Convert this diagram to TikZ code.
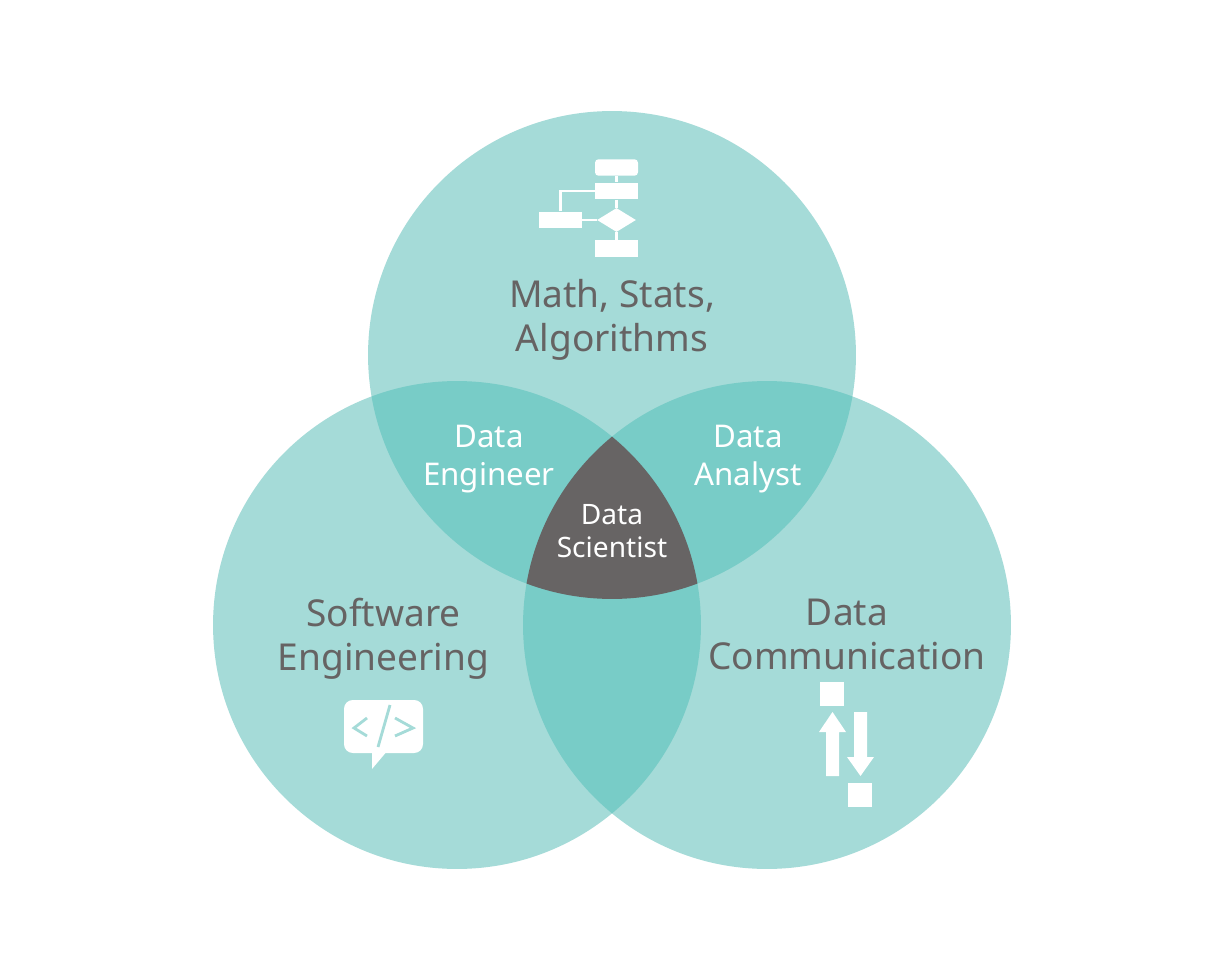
\documentclass[tikz,border=0pt]{standalone}
\usepackage{fontspec}
\setmainfont{Noto Sans}
\usetikzlibrary{shapes.geometric,positioning}
\definecolor{vennlight}{HTML}{A5DBD8}
\definecolor{venndark}{HTML}{78CCC7}
\definecolor{venncore}{HTML}{676464}
\definecolor{venntext}{HTML}{666363}

\begin{document}
\begin{tikzpicture}[x=0.02cm,y=-0.02cm,
    big/.style={text=venntext,align=center,inner sep=0pt,font=\fontsize{21.1}{25}\selectfont},
    mid/.style={text=white,align=center,inner sep=0pt,font=\fontsize{17.8}{21.4}\selectfont},
    small/.style={text=white,align=center,inner sep=0pt,font=\fontsize{16}{18.8}\selectfont},
    flowbox/.style={fill=white,minimum width=0.86cm,minimum height=0.33cm,inner sep=0pt},
    flowline/.style={draw=white,line width=1.2pt},
    sqbox/.style={fill=white,minimum size=0.48cm,inner sep=0pt}]

    \useasboundingbox (0,0) rectangle (1225,980);
    \fill[white] (0,0) rectangle (1225,980);

    % the circles
    \def\circtop{(612,355) circle (4.88cm)}
    \def\circleft{(457,625) circle (4.88cm)}
    \def\circright{(767,625) circle (4.88cm)}
    \fill[vennlight] \circtop;
    \fill[vennlight] \circleft;
    \fill[vennlight] \circright;

    % the overlaps
    \begin{scope}
      \clip \circtop;
      \fill[venndark] \circleft;
      \fill[venndark] \circright;
    \end{scope}
    \begin{scope}
      \clip \circleft;
      \fill[venndark] \circright;
    \end{scope}
    \begin{scope}
      \clip \circtop;
      \clip \circleft;
      \fill[venncore] \circright;
    \end{scope}

    % the texts
    \node[big] (math) at (612,320) {Math, Stats,\\Algorithms};
    \node[big] (soft) at (383.5,638.5) {Software\\Engineering};
    \node[big] (comm) at (847,634) {Data\\Communication};
    \node[mid] (eng) at (489,459) {Data\\Engineer};
    \node[mid] (ana) at (748,459) {Data\\Analyst};
    \node[small] (sci) at (612,531.5) {Data\\Scientist};

    % the flow chart
    \node[flowbox,rounded corners=2pt] (start) at (616.5,167.5) {};
    \node[flowbox] (proc) at (616.5,191) {};
    \node[flowbox] (side) at (560.5,220) {};
    \node[fill=white,diamond,minimum width=0.78cm,minimum height=0.48cm,inner sep=0pt] (deci) at (616.5,220) {};
    \node[flowbox] (stop) at (616.5,248.5) {};
    \draw[flowline] (start) -- (proc);
    \draw[flowline] (proc) -- (deci);
    \draw[flowline] (deci) -- (stop);
    \draw[flowline] (side) -- (deci);
    \draw[flowline] (side) |- (proc);

    % the code bubble
    \fill[white,rounded corners=5pt] (344,700) rectangle (423,753);
    \fill[white] (372,750) -- (372,769) -- (388,750) -- cycle;
    \draw[vennlight,line width=1.6pt] (367,718) -- (354,728) -- (367,736);
    \draw[vennlight,line width=1.6pt] (395,718) -- (413,728) -- (395,736);
    \draw[vennlight,line width=1.6pt] (390,705) -- (378,747);

    % the two arrows
    \node[sqbox] (upper) at (832,694) {};
    \node[sqbox] (lower) at (860,794.5) {};
    \fill[white] (826,776) -- (826,732) -- (819,732) -- (832.5,712) -- (846,732) -- (839,732) -- (839,776) -- cycle;
    \fill[white] (854,712) -- (854,757) -- (847,757) -- (860.5,776) -- (874,757) -- (867,757) -- (867,712) -- cycle;

\end{tikzpicture}
\end{document}
